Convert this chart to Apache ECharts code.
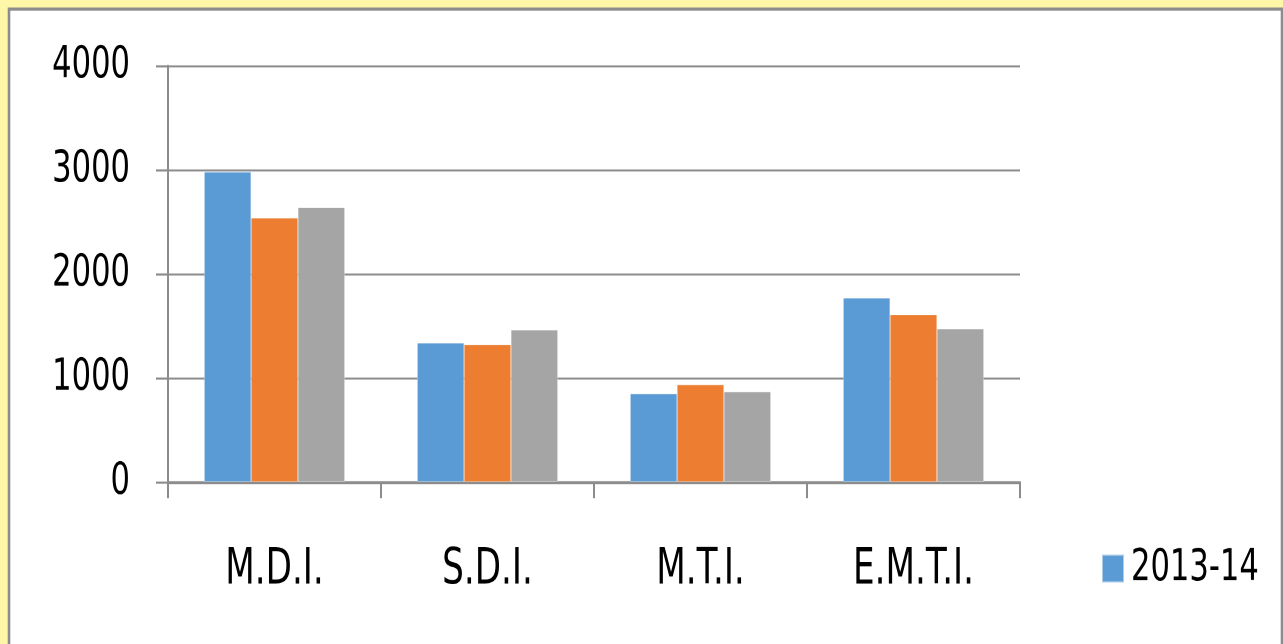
<!DOCTYPE html>
<html>
<head>
<meta charset="utf-8">
<style>
html,body{margin:0;padding:0;background:#FFF7A8;}
#wrap{width:1283px;height:644px;position:relative;overflow:hidden;}
#chart{position:absolute;left:0;top:0;width:1283px;height:495px;transform-origin:0 0;transform:scaleY(1.30101);}
</style>
<script src="https://cdn.jsdelivr.net/npm/echarts@6/dist/echarts.min.js"></script>
</head>
<body>
<div id="wrap"><div id="chart"></div></div>
<script>
const categories = ['M.D.I.', 'S.D.I.', 'M.T.I.', 'E.M.T.I.'];
const seriesNames = ['2013-14', '2014-15', '2015-16'];
const values2013 = [2982, 1339, 849, 1771];
const values2014 = [2540, 1323, 936, 1611];
const values2015 = [2639, 1464, 868, 1473];
const yTicks = [0, 1000, 2000, 3000, 4000];

const FONT = '"DejaVu Sans Condensed", "DejaVu Sans", sans-serif';
const colors = ['#5B9BD5', '#ED7D31', '#A5A5A5'];
const seriesData = [values2013, values2014, values2015];

const chart = echarts.init(document.getElementById('chart'), null, {renderer: 'canvas', devicePixelRatio: 2});
chart.setOption({
  animation: false,
  backgroundColor: '#FFF7A8',
  graphic: [{
    type: 'rect', z: -10, silent: true,
    shape: {x: 9, y: 7, width: 1273, height: 600},
    style: {fill: '#ffffff', stroke: '#8C8C8C', lineWidth: 2.6}
  }],
  grid: {left: 168, right: 263, top: 50.7, bottom: 124.5},
  legend: {
    data: [seriesNames[0]],
    left: 1101, top: 420, padding: 0,
    itemWidth: 22, itemHeight: 21.5, itemGap: 10,
    icon: 'rect',
    textStyle: {fontFamily: FONT, fontSize: 34, color: '#000', padding: [0,0,0,2]}
  },
  xAxis: {
    type: 'category',
    data: categories,
    boundaryGap: true,
    axisLine: {show: true, lineStyle: {color: '#8C8C8C', width: 2.2}},
    axisTick: {show: true, length: 12.5, alignWithLabel: false, lineStyle: {color: '#8C8C8C', width: 2}},
    axisLabel: {fontFamily: FONT, fontSize: 38, color: '#000', margin: 49}
  },
  yAxis: {
    type: 'value',
    min: yTicks[0], max: yTicks[yTicks.length - 1], interval: 1000,
    axisLine: {show: true, lineStyle: {color: '#8C8C8C', width: 2}},
    axisTick: {show: true, length: 12, inside: false, lineStyle: {color: '#8C8C8C', width: 1.6}},
    splitLine: {show: true, lineStyle: {color: '#8C8C8C', width: 1.6}},
    axisLabel: {fontFamily: FONT, fontSize: 34, color: '#000', margin: 38, formatter: v => String(v)}
  },
  series: seriesNames.map((n, i) => ({
    name: n,
    type: 'bar',
    data: seriesData[i],
    barGap: '0%',
    barCategoryGap: '34%',
    itemStyle: {color: colors[i], borderColor: 'rgba(255,255,255,0.5)', borderWidth: 0.5}
  }))
});
</script>
</body>
</html>
